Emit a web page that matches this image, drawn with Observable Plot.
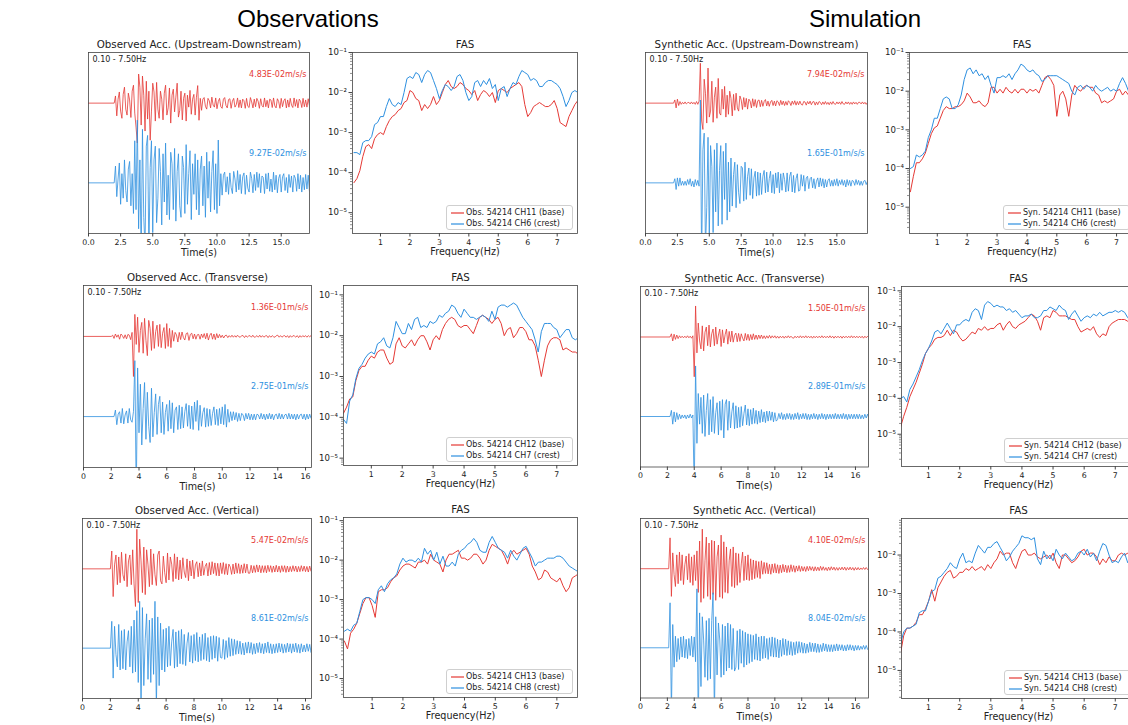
<!DOCTYPE html>
<html><head><meta charset="utf-8">
<script src="https://cdn.jsdelivr.net/npm/d3@7"></script>
<script src="https://cdn.jsdelivr.net/npm/@observablehq/plot@0.6"></script>
<style>
html,body{margin:0;padding:0;background:#fff;overflow:hidden;}
#root{position:relative;width:1128px;height:725px;overflow:hidden;font-family:"DejaVu Sans",sans-serif;}
.hdr{position:absolute;font-family:"Liberation Sans",Arial,sans-serif;font-size:24px;color:#000;transform:translate(-50%,-50%);white-space:nowrap;}
.panel{position:absolute;}
.leg{position:absolute;box-sizing:border-box;border:1px solid #cfcfcf;border-radius:3px;background:rgba(255,255,255,0.85);font-family:"DejaVu Sans",sans-serif;font-size:8px;color:#222;}
.leg .row{position:absolute;left:0;right:0;height:10px;white-space:nowrap;}
.leg svg{position:absolute;left:4px;top:0;}
.leg span{position:absolute;left:19px;top:0;line-height:10px;}
</style></head>
<body><div id="root"></div>
<script>
// ---------------- DATA ----------------
// Time histories: samples every 0.1 s from onset, in % of each trace's peak amplitude
const onsets = {obsUd: 2.0, synUd: 2.2, obsTr: 2.0, obsTrCrest: 2.2, synTr: 2.2, obsVt: 2.0, synVt: 2.1};
const peakObsUd = [4.83e-2, 9.27e-2];
const peakSynUd = [7.94e-2, 1.65e-1];
const peakObsTr = [1.36e-1, 2.75e-1];
const peakSynTr = [1.50e-1, 2.89e-1];
const peakObsVt = [5.47e-2, 8.61e-2];
const peakSynVt = [4.10e-2, 8.04e-2];

const timeObsUdBase = [0,18,-32,10,28,-20,-38,22,40,-15, -30,25,8,-36,30,45,-25,-60,-100,73, 40,-55,68,20,-70,55,-40,30,-93,-20,
 50,28,-45,52,-15,-38,30,10,-42,25, 45,-30,-12,38,-50,20,35,-22,15,50, -35,-18,30,-42,12,25,-45,20,-10,32,
 -28,10,22,-30,15,44,-43,12,-18,10, 14,-8,-15,12,6,-12,15,-5,-10,13, -14,4,12,-9,-13,10,14,-6,-12,9,
 11,-13,5,12,-10,-4,13,-11,8,-12, 10,6,-13,12,-8,-11,14,3,-12,10, -9,12,5,-13,11,-6,-10,13,-9,7,
 -12,10,8,-11,13,-7,-12,11,4,-13, 12,-9,6,11,-12,8,-10,12,-5,-11, 13,-8,9,-12,10,5,-11,12,-9,8, -10,11,-7,9,-11,6];
const timeObsUdCrest = [0,22,-18,5,26,-28,12,-20,30,-10, -25,18,28,-30,12,-40,55,-35,82,-60, 30,-100,70,-45,-85,48,62,-95,20,55,
 -65,30,48,-52,-20,45,15,-55,38,-25, 52,-42,10,-48,40,25,-35,45,-50,15, 38,-30,-45,35,20,-40,50,-28,12,42,
 -48,25,-15,38,-35,30,-42,18,35,-30, 22,-45,40,-20,28,-38,15,42,-35,25, -40,56,-30,12,-16,10,14,-12,8,-15,
 13,-6,-14,15,5,-12,16,-9,11,-14, 8,13,-15,10,-7,-12,14,6,-13,11, -10,14,-6,12,-13,9,7,-14,12,-8,
 13,-11,5,-12,14,-9,10,-13,6,11, -12,8,12,-10,7,-13,11,-6,9,-12, 10,6,-11,12,-8,10,-12,7,-9,11, -8,10,-12,7,9,-10];
const timeSynUdBase = [0,8,-12,10,-6,4,-3,2,-2,3, -2,1,2,-2,3,-2,2,-3,4,-3, 5,100,-45,-66,60,25,-50,88,-35,-20,
 55,-48,15,40,-38,62,-25,-30,35,-15, 42,-35,20,-28,30,12,-32,22,-18,25, -12,-20,18,8,-16,14,-10,12,-15,10,
 5,-12,11,-8,9,-11,6,8,-9,7, -8,4,9,-7,5,-8,3,7,-6,5, -7,6,3,-6,7,-4,5,-6,4,-5,
 6,2,-6,5,-3,6,-5,4,-4,5, -3,-5,4,3,-5,4,-2,5,-4,3, 4,-5,3,-4,4,2,-4,3,-3,4,
 -3,2,-4,3,-3,4,-2,-3,3,-2, 3,-3,4,-2,-3,3,-2,3,-3,2, -3,3,-2,2,-3,2,2,-2,3,-2, 2,-3,2,-2];
const timeSynUdCrest = [0,5,-8,6,-4,6,-3,2,-3,2, -3,4,-2,5,-4,2,-5,4,-3,3, -4,100,-95,40,60,-80,-30,55,-70,45,
 20,-60,40,-35,48,-52,15,45,-50,38, -20,48,-45,25,-35,30,-28,10,25,-30, 22,-12,-25,20,18,-22,25,-20,8,18,
 -15,17,-19,6,14,-16,13,-15,12,-14, 8,15,-12,13,-11,5,14,-12,10,-13, 12,-6,13,-12,11,-9,12,4,-11,12,
 -10,8,13,-11,9,-12,5,11,-10,-9, 10,-4,9,-10,6,8,-7,5,7,-6, 5,-7,2,6,-5,6,-4,5,-6,4,
 -5,3,5,-4,3,-4,4,-3,5,-4, 3,-2,4,-3,3,-5,4,-3,3,-4, 3,2,-3,4,-2,3,-3,2,-3,2, 3,-2,2,-3];
const timeObsTrBase = [0,3,-5,6,-2,4,-7,6,2,-5, 4,-6,5,3,-8,10,-100,55,-20,48, -40,15,35,-42,45,-10,-48,40,20,-35,
 38,-30,12,28,-25,30,-28,8,22,-30, 32,-25,20,-28,15,-12,10,4,-14,10, -8,11,-3,-9,7,9,-10,5,8,-6,
 6,-7,4,5,-7,6,-3,7,-6,8, -9,3,8,-7,6,-8,7,-4,5,-3, 3,-4,2,3,-3,2,-2,3,-2,2,
 -2,3,-1,-2,2,2,-3,2,-2,1, 2,-2,3,-2,-1,2,-2,3,-2,2, -2,1,2,-3,2,-2,2,-1,-2,2,
 3,-2,2,-2,1,2,-2,2,-3,2, -2,2,1,-2,2,-3,2,-2,2,-1, 2,-2,2,-1,2,-2,1,2,-2,2,-1];
const timeObsTrCrest = [0,8,-10,3,6,-8,10,-9,2,7, -8,10,-4,-7,6,69,-100,60,-20,40, -35,10,42,-28,30,-12,-32,35,-25,5,
 28,-22,15,25,-20,18,-22,5,15,-18, 20,-15,17,-20,8,12,-16,14,-15,12, -14,6,16,-12,14,-15,13,-16,18,-6,
 20,-17,14,-12,5,11,-13,10,-12,9, -11,4,12,-10,9,-11,10,-9,12,-10, 15,-13,9,-7,6,-5,6,-4,5,-6,
 4,-5,4,2,-5,4,-3,4,-4,3, -4,3,-4,3,2,-3,4,-3,3,-4, 3,-3,4,-3,3,-4,2,3,-3,4,
 -3,3,-3,2,3,-3,4,-3,3,-3, 3,-4,3,-3,2,3,-3,3,-4,3, -3,3,-2,2,-3,2,-2,3,-2];
const timeSynTrBase = [0,8,-10,7,-6,5,-4,3,-2,2, -2,2,-2,3,-2,2,-3,3,-100,78, -40,35,-10,-30,28,-35,12,25,-22,30,
 -25,8,20,-22,25,-18,5,20,-24,18, -15,6,20,-18,14,-12,15,-13,4,10, -12,9,-11,8,-3,-10,9,-8,7,-9,
 6,-7,8,-6,5,-6,5,-4,5,-4, 3,-4,3,-3,4,-3,3,-2,3,-3, 2,-3,2,-2,2,-3,2,-2,3,-2,
 2,-2,-3,2,-2,2,-2,3,-2,2, -2,3,-2,2,-2,2,-3,2,-2,2, -2,2,-2,3,-2,2,-2,2,-2,3,
 -2,2,-3,2,-2,2,-2,2,-3,2, -2,2,-2,2,-2,3,-2,2,-2,2, -2,2,-2,2,-3,2,-2,2,-2];
const timeSynTrCrest = [0,8,-10,6,-7,5,-4,3,-3,2, -2,2,-3,2,-2,3,-2,2,-100,66, -35,30,-10,25,-22,28,-26,8,30,-24,
 22,-20,26,-22,5,18,-24,20,-18,22, -28,16,22,-18,20,-15,6,18,-16,14, -15,12,-14,13,-12,4,15,-11,10,-12,
 9,-10,11,-9,8,-10,7,-8,9,-7, 6,-8,7,-6,7,-5,6,-7,5,-6, -4,4,-3,5,-4,3,-4,4,-3,4,
 -4,3,-4,4,-3,5,-4,3,-3,4, -3,4,-4,3,-4,3,-3,4,-3,3, -4,3,-3,4,-3,3,-4,3,-3,3,
 -3,3,-3,4,-3,3,-3,3,-3,4, -3,3,-4,3,-3,3,-3,3,-3,3, -3,3,-3,2,-3,3,-2,3,-2];
const timeObsVtBase = [0,45,-70,10,35,-40,30,-35,42,-15, -30,38,-45,20,35,-40,48,-38,-95,100, -85,75,20,-60,55,-65,48,10,-45,50,
 -40,38,-15,-42,35,45,-30,-38,32,-10, -35,40,-28,30,12,-32,38,-25,30,-28, 22,-25,28,-8,-22,25,-30,20,-18,22,
 -25,10,18,-20,15,-18,20,-16,6,14, -18,16,-15,18,-12,15,-17,14,-18,15, -12,16,-14,13,-15,12,5,-14,12,-13,
 15,-11,13,-12,10,-11,13,-10,12,-11, -11,9,-10,8,-9,10,-8,9,-10,8, -9,8,-10,9,-7,8,-9,7,-8,9,
 -8,7,-9,8,-7,8,-9,7,-8,6, -7,8,-6,7,-8,6,-7,8,-6,7, -7,6,-8,7,-6,5,-7,6,-5,6,-5];
const timeObsVtCrest = [0,43,-48,35,-10,-30,38,-35,28,-33, 30,-35,10,28,-30,35,-40,45,-38,60, -55,75,-100,65,-60,15,55,-50,45,-55,
 48,-42,75,-95,50,-60,40,-35,30,-38, 32,-30,35,-28,10,30,-32,26,-30,28, -25,30,-26,22,-28,8,25,-22,20,-24,
 22,-20,25,-22,18,-20,22,-18,24,-20, 17,-22,19,-18,20,-16,19,-21,17,-15, -16,14,-18,12,-15,17,-13,15,-12,14,
 -10,12,-9,11,-10,8,-11,9,-8,10, -8,9,-10,7,-9,8,-7,9,-8,7, -9,8,-7,10,-8,7,-9,6,-8,7,
 -7,8,-6,7,-8,6,-7,8,-6,7, -8,7,-6,8,-7,6,-8,7,-6,5, -6,7,-5,6,-7,5,-6,5,-6,5,-5];
const timeSynVtBase = [0,78,-70,40,-15,-45,35,-38,42,-30, 35,-40,10,32,-28,38,-35,30,-42,35, -30,45,-60,70,-85,100,-75,20,80,-70,
 65,-78,72,-65,70,-80,30,60,-72,85, -75,68,-60,55,-62,20,50,-45,55,-48, 40,-42,38,-35,12,42,-30,32,-28,35,
 -30,25,-28,22,-25,20,-22,18,-25,20, -14,16,-12,15,-13,11,-14,12,-10,13, -11,10,-12,9,-10,11,-8,9,-10,8,
 -9,10,-7,8,-9,7,-6,8,-7,6, -6,5,-7,6,-5,6,-4,5,-6,5, -5,4,-5,6,-4,5,-4,3,-5,4,
 -4,5,-3,4,-4,3,-4,3,-3,4, -3,4,-4,3,-3,4,-3,3,-4,3, -3,3,-3,2,-2,3,-2,3,-2];
const timeSynVtCrest = [0,58,-85,30,-25,15,-18,12,-15,14, -12,15,-13,11,-14,12,-10,15,-12,14, -18,76,-100,45,-50,40,10,-38,35,-42,
 38,-40,35,71,-90,40,-35,32,10,-38, 30,-35,28,-30,32,-26,30,-28,25,-30, -25,22,-28,24,-20,22,-25,20,-22,18,
 -20,17,-18,16,-15,18,-16,14,-17,15, -14,15,-13,12,-15,13,-11,14,-12,13, -12,11,-13,10,-11,12,-9,11,-10,9,
 -9,8,-10,7,-9,8,-7,8,-6,7, -7,6,-7,5,-6,7,-5,6,-5,6, -6,5,-6,4,-5,6,-4,5,-5,4,
 -5,4,-5,4,-4,5,-4,4,-3,4, -4,3,-4,4,-3,4,-3,3,-4,3, -3,3,-3,2,-2,3,-2,3,-2];

// Fourier amplitude spectra: log10 amplitude at 0.1, 0.2, ... Hz
const fasObsUdBase = [-4.25,-4.15,-3.95,-3.6,-3.35,-3.3,-3.4,-3.15,-3.05,-3.0, -3.05,-2.85,-2.7,-2.6,-2.55,-2.45,-2.4,-2.25,-2.2,-1.95,
 -2.0,-2.15,-2.2,-2.45,-2.3,-2.4,-2.3,-2.1,-2.3,-2.2, -2.0,-1.8,-1.7,-1.85,-1.9,-1.85,-1.75,-1.8,-1.9,-1.95,
 -2.05,-1.95,-2.2,-2.05,-1.95,-2.0,-2.1,-2.0,-2.25,-1.95, -1.9,-1.95,-2.0,-1.9,-1.85,-1.8,-1.75,-1.85,-2.3,-2.6,
 -2.5,-2.35,-2.3,-2.25,-2.3,-2.35,-2.35,-2.3,-2.2,-2.4, -2.75,-2.8,-2.85,-2.6,-2.45,-2.3,-2.2];
const fasObsUdCrest = [-3.5,-3.5,-3.55,-3.25,-3.2,-3.2,-3.1,-2.8,-2.75,-2.6, -2.6,-2.35,-2.15,-2.3,-2.35,-2.25,-2.3,-2.0,-1.65,-1.6,
 -1.65,-1.5,-1.55,-1.75,-1.55,-1.45,-1.5,-1.7,-1.9,-2.15, -1.95,-1.8,-1.85,-1.95,-1.85,-1.6,-1.55,-1.7,-2.0,-2.2,
 -2.1,-1.75,-1.7,-1.85,-1.7,-1.8,-1.65,-1.9,-1.8,-2.2, -1.9,-1.85,-2.1,-1.9,-1.75,-1.8,-1.6,-1.45,-1.5,-1.55,
 -1.7,-1.65,-1.7,-1.85,-1.85,-1.75,-1.7,-1.7,-1.75,-1.8, -1.9,-2.1,-2.35,-2.2,-2.0,-1.95,-2.0];
const fasSynUdBase = [-4.6,-4.2,-3.85,-3.85,-3.75,-3.6,-3.35,-3.1,-2.95,-2.9, -2.7,-2.5,-2.4,-2.45,-2.45,-2.4,-2.4,-2.35,-2.25,-2.05,
 -2.15,-2.3,-2.3,-2.25,-2.35,-2.4,-2.3,-1.9,-1.9,-2.05, -1.95,-2.05,-1.9,-2.0,-2.05,-1.95,-2.05,-1.95,-1.95,-2.05,
 -1.95,-2.0,-1.95,-2.05,-1.85,-1.65,-1.6,-1.7,-1.85,-2.65, -2.1,-2.0,-2.2,-2.65,-2.1,-1.85,-1.95,-2.0,-1.9,-1.85,
 -1.9,-1.9,-2.05,-2.1,-2.3,-2.25,-2.3,-2.25,-2.2,-2.0, -1.95,-2.1,-2.0,-2.1,-2.1,-2.15,-2.1];
const fasSynUdCrest = [-4.0,-3.95,-3.65,-3.7,-3.65,-3.55,-3.2,-3.0,-2.7,-2.7, -2.45,-2.2,-2.15,-2.2,-2.45,-2.45,-2.35,-2.1,-1.7,-1.45,
 -1.4,-1.55,-1.45,-1.6,-1.55,-1.7,-1.6,-1.85,-2.05,-1.65, -1.65,-1.6,-1.65,-1.55,-1.7,-1.55,-1.45,-1.3,-1.35,-1.45,
 -1.5,-1.45,-1.55,-1.6,-1.75,-1.7,-1.6,-1.6,-1.6,-1.6, -1.65,-1.7,-1.75,-1.8,-2.0,-2.1,-1.9,-1.85,-1.95,-1.85,
 -1.9,-2.0,-1.85,-1.95,-2.0,-1.95,-1.9,-2.0,-1.95,-2.0, -1.8,-1.65,-1.8,-2.0,-1.9,-1.9,-1.95];
const fasObsTrBase = [-3.9,-3.75,-3.55,-3.5,-3.1,-2.85,-2.75,-2.75,-2.6,-2.5, -2.55,-2.4,-2.35,-2.35,-2.55,-2.7,-2.65,-2.2,-2.05,-2.25,
 -2.3,-2.2,-2.1,-2.25,-2.1,-2.0,-2.0,-2.15,-2.35,-2.1, -2.0,-2.1,-1.85,-1.7,-1.6,-1.55,-1.6,-1.75,-1.8,-1.75,
 -1.75,-1.85,-1.95,-1.75,-1.55,-1.5,-1.55,-1.6,-1.7,-1.6, -1.55,-1.7,-2.0,-1.85,-1.8,-2.05,-1.95,-1.8,-1.8,-1.9,
 -2.1,-2.1,-2.25,-2.6,-3.0,-2.6,-2.25,-2.1,-2.05,-2.05, -2.1,-2.35,-2.3,-2.35,-2.4,-2.4,-2.45];
const fasObsTrCrest = [-4.05,-4.15,-3.6,-3.45,-3.05,-2.8,-2.7,-2.55,-2.45,-2.4, -2.45,-2.2,-2.15,-2.05,-2.25,-2.3,-2.05,-1.65,-1.8,-1.95,
 -1.95,-1.7,-1.85,-1.6,-1.55,-1.8,-1.75,-1.8,-1.65,-1.7, -1.65,-1.5,-1.55,-1.45,-1.4,-1.25,-1.3,-1.45,-1.55,-1.35,
 -1.45,-1.55,-1.55,-1.6,-1.55,-1.5,-1.55,-1.65,-1.4,-1.6, -1.3,-1.25,-1.25,-1.3,-1.25,-1.2,-1.25,-1.4,-1.55,-1.65,
 -1.75,-1.85,-2.1,-2.4,-1.9,-1.7,-1.7,-1.7,-1.8,-1.85, -2.05,-1.95,-1.85,-1.85,-2.05,-2.1,-2.05];
const fasSynTrBase = [-4.8,-4.5,-4.25,-3.95,-3.75,-3.55,-3.3,-3.05,-2.75,-2.6, -2.5,-2.35,-2.3,-2.3,-2.25,-2.1,-2.25,-2.1,-2.15,-2.3,
 -2.4,-2.35,-2.25,-2.15,-2.2,-2.05,-2.1,-2.0,-2.1,-2.05, -2.05,-1.95,-1.9,-2.1,-1.95,-1.85,-2.0,-2.05,-1.95,-1.9,
 -1.85,-1.75,-1.65,-1.7,-1.85,-2.1,-1.75,-1.7,-1.75,-1.55, -1.6,-1.7,-1.7,-1.7,-1.75,-1.8,-1.8,-2.0,-2.15,-2.1,
 -2.05,-2.1,-2.0,-2.2,-2.3,-2.2,-2.25,-2.0,-1.9,-1.85, -1.8,-1.8,-1.8,-1.85,-1.85,-1.9,-1.85];
const fasSynTrCrest = [-4.0,-3.95,-4.1,-3.75,-3.6,-3.4,-3.2,-2.95,-2.75,-2.6, -2.4,-2.15,-2.1,-2.2,-2.05,-1.9,-2.05,-2.2,-1.95,-1.95,
 -1.85,-1.8,-1.85,-1.6,-1.5,-1.55,-1.8,-1.4,-1.3,-1.35, -1.45,-1.4,-1.45,-1.45,-1.55,-1.5,-1.6,-1.55,-1.65,-1.75,
 -1.7,-1.7,-1.65,-1.75,-1.75,-1.7,-1.55,-1.55,-1.45,-1.5, -1.55,-1.4,-1.5,-1.55,-1.8,-1.65,-1.55,-1.7,-1.85,-1.75,
 -1.7,-1.75,-1.65,-1.7,-1.6,-1.7,-1.65,-1.6,-1.6,-1.55, -1.6,-1.55,-1.6,-1.75,-1.7,-1.7,-1.75];
const fasObsVtBase = [-4.05,-4.25,-3.85,-3.75,-3.6,-3.35,-3.1,-2.95,-2.95,-3.15, -3.45,-2.8,-2.75,-2.75,-2.7,-2.55,-2.45,-2.4,-2.25,-2.15,
 -2.1,-2.1,-2.15,-2.2,-2.05,-2.05,-2.0,-2.1,-1.85,-2.0, -2.05,-2.1,-2.3,-2.0,-1.85,-1.85,-1.8,-1.75,-1.95,-1.95,
 -2.0,-1.95,-1.85,-1.85,-1.95,-2.1,-2.0,-1.75,-1.6,-1.65, -1.7,-1.75,-1.9,-2.1,-1.85,-1.75,-1.85,-1.8,-1.75,-1.7,
 -1.85,-2.15,-2.3,-2.5,-2.45,-2.25,-2.3,-2.45,-2.5,-2.55, -2.45,-2.65,-2.8,-2.7,-2.45,-2.4,-2.35];
const fasObsVtCrest = [-3.8,-3.75,-3.8,-3.65,-3.6,-3.3,-3.0,-2.95,-2.95,-3.0, -3.1,-2.75,-2.65,-2.8,-2.6,-2.5,-2.45,-2.35,-2.1,-1.95,
 -2.05,-2.0,-2.0,-2.05,-1.95,-2.05,-1.7,-1.85,-1.75,-2.0, -1.8,-2.1,-1.9,-2.15,-2.15,-2.05,-2.15,-1.85,-1.75,-1.7,
 -1.6,-1.55,-1.45,-1.55,-1.75,-1.8,-1.8,-1.55,-1.4,-1.55, -1.7,-1.75,-1.8,-1.95,-1.75,-1.9,-2.0,-1.85,-1.7,-1.65,
 -1.8,-1.95,-2.15,-2.05,-2.05,-2.0,-1.95,-1.95,-1.95,-1.9, -1.9,-1.95,-2.05,-2.15,-2.2,-2.25,-2.3];
const fasSynVtBase = [-4.55,-4.1,-3.9,-3.9,-3.85,-3.75,-3.55,-3.55,-3.4,-3.2, -2.9,-3.2,-2.85,-2.7,-2.55,-2.45,-2.4,-2.6,-2.55,-2.45,
 -2.45,-2.35,-2.4,-2.3,-2.4,-2.35,-2.3,-2.4,-2.25,-2.35, -2.2,-2.1,-1.9,-2.0,-1.95,-1.95,-2.2,-2.35,-2.1,-1.9,
 -1.85,-2.0,-2.0,-1.95,-2.05,-2.1,-2.05,-2.0,-2.1,-1.95, -2.2,-2.35,-2.0,-2.0,-2.1,-2.2,-2.15,-2.05,-1.9,-1.85,
 -2.0,-1.95,-1.95,-2.05,-2.25,-2.1,-2.2,-2.05,-2.15,-2.15, -2.0,-1.95,-2.0,-1.95,-2.05,-2.0,-2.05];
const fasSynVtCrest = [-4.3,-4.0,-3.9,-3.9,-3.85,-3.8,-3.5,-3.45,-3.45,-3.2, -2.95,-2.9,-2.6,-2.55,-2.45,-2.35,-2.2,-2.3,-2.35,-2.1,
 -1.95,-2.2,-2.15,-2.2,-1.95,-1.75,-1.85,-1.95,-1.8,-1.8, -1.7,-1.65,-1.8,-1.95,-2.15,-2.05,-1.9,-1.8,-1.7,-1.5,
 -1.55,-1.55,-1.6,-1.55,-2.1,-2.25,-1.9,-2.1,-2.0,-2.15, -1.85,-2.0,-2.1,-1.95,-2.05,-2.15,-2.1,-1.95,-1.9,-2.0,
 -1.85,-2.05,-1.95,-2.15,-1.9,-1.7,-1.75,-2.0,-2.2,-2.15, -2.2,-2.05,-1.95,-2.2,-2.05,-2.1,-2.0];

const legendLabels = {
  obsUd: ["Obs. 54214 CH11 (base)", "Obs. 54214 CH6 (crest)"],
  synUd: ["Syn. 54214 CH11 (base)", "Syn. 54214 CH6 (crest)"],
  obsTr: ["Obs. 54214 CH12 (base)", "Obs. 54214 CH7 (crest)"],
  synTr: ["Syn. 54214 CH12 (base)", "Syn. 54214 CH7 (crest)"],
  obsVt: ["Obs. 54214 CH13 (base)", "Obs. 54214 CH8 (crest)"],
  synVt: ["Syn. 54214 CH13 (base)", "Syn. 54214 CH8 (crest)"]
};
const timeTitles = ["Observed Acc. (Upstream-Downstream)", "Synthetic Acc. (Upstream-Downstream)",
  "Observed Acc. (Transverse)", "Synthetic Acc. (Transverse)", "Observed Acc. (Vertical)", "Synthetic Acc. (Vertical)"];
const bandLabel = "0.10 - 7.50Hz";
const ticksRow1 = [0, 2.5, 5, 7.5, 10, 12.5, 15];
const ticksRow23 = [0, 2, 4, 6, 8, 10, 12, 14, 16];
const freqTicks = [1, 2, 3, 4, 5, 6, 7];
const decadeTicks = [1e-1, 1e-2, 1e-3, 1e-4, 1e-5, 1e-6];

// ---------------- RENDER ----------------
const RED = "#e53935", BLUE = "#2e90e0", INK = "#222", SPINE = "#444";
const root = document.getElementById("root");
const mL = 42, mR = 12, mT = 24, mB = 30;
const SUP = {"-":"\u207B","0":"\u2070","1":"\u00B9","2":"\u00B2","3":"\u00B3","4":"\u2074","5":"\u2075","6":"\u2076","7":"\u2077","8":"\u2078","9":"\u2079"};
const supFmt = d => "10" + String(Math.round(Math.log10(d))).split("").map(c => SUP[c]).join("");
const fmtPeak = v => { const e = Math.floor(Math.log10(v) + 1e-9); const m = v / Math.pow(10, e);
  return m.toFixed(2) + "E" + (e < 0 ? "-" : "+") + String(Math.abs(e)).padStart(2, "0") + "m/s/s"; };
const TICK_FS = 7.8, TITLE_FS = 10.3, LABEL_FS = 9.6, ANNO_FS = 8;

function place(el, fx0, fy0) {
  el.classList.add("panel");
  el.style.left = (fx0 - mL) + "px";
  el.style.top = (fy0 - mT) + "px";
  root.appendChild(el);
}

function timePanel({frame: [fx0, fx1, fy0, fy1], xdom, ticks, fmt, title, base, crest, onset, onsetCrest, peaks}) {
  const ratio = peaks[1] / peaks[0];
  const red = [{t: xdom[0], y: 1}].concat(base.map((v, i) => ({t: onset + i * 0.1, y: v / 100 + 1})));
  const blue = [{t: xdom[0], y: -1}].concat(crest.map((v, i) => ({t: onsetCrest + i * 0.1, y: v / 100 * ratio - 1})));
  const YH = 2.27;
  const svg = Plot.plot({
    width: fx1 - fx0 + mL + mR, height: fy1 - fy0 + mT + mB,
    marginLeft: mL, marginRight: mR, marginTop: mT, marginBottom: mB,
    style: {fontFamily: "DejaVu Sans", fontSize: TICK_FS + "px", color: INK, background: "transparent", overflow: "visible"},
    x: {domain: xdom}, y: {domain: [-YH, YH], axis: null},
    marks: [
      Plot.line(red, {x: "t", y: "y", stroke: RED, strokeWidth: 0.8, clip: true}),
      Plot.line(blue, {x: "t", y: "y", stroke: BLUE, strokeWidth: 0.8, clip: true}),
      Plot.frame({stroke: SPINE, strokeWidth: 0.8}),
      Plot.axisX({ticks, tickFormat: fmt, tickSize: 3.5, tickPadding: 2, stroke: SPINE, fontSize: TICK_FS, label: null}),
      Plot.text([title], {text: d => d, frameAnchor: "top", lineAnchor: "middle", dy: -7.5, fontSize: TITLE_FS, fill: INK}),
      Plot.text(["Time(s)"], {text: d => d, frameAnchor: "bottom", lineAnchor: "middle", dy: 19, fontSize: LABEL_FS, fill: INK}),
      Plot.text([bandLabel], {text: d => d, frameAnchor: "top-left", textAnchor: "start", lineAnchor: "middle", dx: 4, dy: 7, fontSize: ANNO_FS, fill: INK}),
      Plot.text([fmtPeak(peaks[0])], {text: d => d, x: () => xdom[1], y: () => 1.72, textAnchor: "end", lineAnchor: "middle", dx: -3, fontSize: ANNO_FS, fill: RED}),
      Plot.text([fmtPeak(peaks[1])], {text: d => d, x: () => xdom[1], y: () => -0.25, textAnchor: "end", lineAnchor: "middle", dx: -3, fontSize: ANNO_FS, fill: BLUE})
    ]
  });
  place(svg, fx0, fy0);
}

function fasPanel({frame: [fx0, fx1, fy0, fy1], xdom, ylog, base, crest, labels}) {
  const pts = arr => arr.map((v, i) => ({f: (i + 1) / 10, a: Math.pow(10, v)}));
  const ydom = [Math.pow(10, ylog[0]), Math.pow(10, ylog[1])];
  const majors = decadeTicks.filter(d => d >= ydom[0] * 0.999 && d <= ydom[1] * 1.001);
  const minors = [];
  for (const d of decadeTicks) for (let k = 2; k <= 9; k++) { const v = d * k; if (v > ydom[0] && v < ydom[1]) minors.push(v); }
  const svg = Plot.plot({
    width: fx1 - fx0 + mL + mR, height: fy1 - fy0 + mT + mB,
    marginLeft: mL, marginRight: mR, marginTop: mT, marginBottom: mB,
    style: {fontFamily: "DejaVu Sans", fontSize: TICK_FS + "px", color: INK, background: "transparent", overflow: "visible"},
    x: {domain: xdom}, y: {type: "log", domain: ydom},
    marks: [
      Plot.line(pts(base), {x: "f", y: "a", stroke: RED, strokeWidth: 1, clip: true}),
      Plot.line(pts(crest), {x: "f", y: "a", stroke: BLUE, strokeWidth: 1, clip: true}),
      Plot.frame({stroke: SPINE, strokeWidth: 0.8}),
      Plot.axisX({ticks: freqTicks, tickFormat: d => String(d), tickSize: 3.5, tickPadding: 2, stroke: SPINE, fontSize: TICK_FS, label: null}),
      Plot.axisY({ticks: majors, tickFormat: supFmt, tickSize: 3.5, tickPadding: 2, stroke: SPINE, fontSize: 8.6, label: null}),
      Plot.axisY({ticks: minors, tickFormat: () => "", tickSize: 2, stroke: SPINE, strokeWidth: 0.6, label: null}),
      Plot.text(["FAS"], {text: d => d, frameAnchor: "top", lineAnchor: "middle", dy: -8, fontSize: TITLE_FS, fill: INK}),
      Plot.text(["Frequency(Hz)"], {text: d => d, frameAnchor: "bottom", lineAnchor: "middle", dy: 18.5, fontSize: LABEL_FS, fill: INK})
    ]
  });
  place(svg, fx0, fy0);
  // legend box (lower right)
  const W = 127, H = 25;
  const leg = document.createElement("div");
  leg.className = "leg";
  leg.style.left = (fx1 - 4 - W) + "px";
  leg.style.top = (fy1 - 3 - H) + "px";
  leg.style.width = W + "px"; leg.style.height = H + "px";
  [[labels[0], RED, 1.5], [labels[1], BLUE, 12.5]].forEach(([txt, col, top]) => {
    const row = document.createElement("div");
    row.className = "row"; row.style.top = top + "px";
    row.innerHTML = `<svg width="13" height="10"><line x1="0" x2="13" y1="5" y2="5" stroke="${col}" stroke-width="1.2"/></svg><span>${txt}</span>`;
    leg.appendChild(row);
  });
  root.appendChild(leg);
}

// headers
[["Observations", 308], ["Simulation", 865]].forEach(([t, x]) => {
  const d = document.createElement("div"); d.className = "hdr"; d.textContent = t;
  d.style.left = x + "px"; d.style.top = "19px"; root.appendChild(d);
});
const f1 = d => d.toFixed(1), f0 = d => String(d);

// Row 1: Upstream-Downstream
timePanel({frame: [88, 309, 52, 233], xdom: [0, 17.2], ticks: ticksRow1, fmt: f1, title: timeTitles[0],
  base: timeObsUdBase, crest: timeObsUdCrest, onset: onsets.obsUd, onsetCrest: onsets.obsUd, peaks: peakObsUd});
fasPanel({frame: [352, 577, 52, 233], xdom: [0.05, 7.69], ylog: [-5.52, -1], base: fasObsUdBase, crest: fasObsUdCrest, labels: legendLabels.obsUd});
timePanel({frame: [645, 867, 52, 233], xdom: [0, 17.4], ticks: ticksRow1, fmt: f1, title: timeTitles[1],
  base: timeSynUdBase, crest: timeSynUdCrest, onset: onsets.synUd, onsetCrest: onsets.synUd, peaks: peakSynUd});
fasPanel({frame: [909, 1134, 52, 233], xdom: [0.07, 7.6], ylog: [-5.68, -1], base: fasSynUdBase, crest: fasSynUdCrest, labels: legendLabels.synUd});

// Row 2: Transverse
timePanel({frame: [83, 311, 284.5, 466.5], xdom: [0, 16.43], ticks: ticksRow23, fmt: f0, title: timeTitles[2],
  base: timeObsTrBase, crest: timeObsTrCrest, onset: onsets.obsTr, onsetCrest: onsets.obsTrCrest, peaks: peakObsTr});
fasPanel({frame: [343, 577, 285, 465], xdom: [0.1, 7.67], ylog: [-5.18, -0.77], base: fasObsTrBase, crest: fasObsTrCrest, labels: legendLabels.obsTr});
timePanel({frame: [640, 868, 286, 466.5], xdom: [0, 16.97], ticks: ticksRow23, fmt: f0, title: timeTitles[3],
  base: timeSynTrBase, crest: timeSynTrCrest, onset: onsets.synTr, onsetCrest: onsets.synTr, peaks: peakSynTr});
fasPanel({frame: [901, 1135, 286, 466], xdom: [0.13, 7.65], ylog: [-5.9, -0.88], base: fasSynTrBase, crest: fasSynTrCrest, labels: legendLabels.synTr});

// Row 3: Vertical
timePanel({frame: [82, 311, 517.5, 697.5], xdom: [0, 16.43], ticks: ticksRow23, fmt: f0, title: timeTitles[4],
  base: timeObsVtBase, crest: timeObsVtCrest, onset: onsets.obsVt, onsetCrest: onsets.obsVt, peaks: peakObsVt});
fasPanel({frame: [343, 577, 517, 697], xdom: [0.07, 7.67], ylog: [-5.48, -0.92], base: fasObsVtBase, crest: fasObsVtCrest, labels: legendLabels.obsVt});
timePanel({frame: [640, 868, 517.5, 697], xdom: [0, 16.97], ticks: ticksRow23, fmt: f0, title: timeTitles[5],
  base: timeSynVtBase, crest: timeSynVtCrest, onset: onsets.synVt, onsetCrest: onsets.synVt, peaks: peakSynVt});
fasPanel({frame: [901, 1135, 518, 698], xdom: [0.13, 7.65], ylog: [-5.73, -1.05], base: fasSynVtBase, crest: fasSynVtCrest, labels: legendLabels.synVt});
</script>
</body></html>
